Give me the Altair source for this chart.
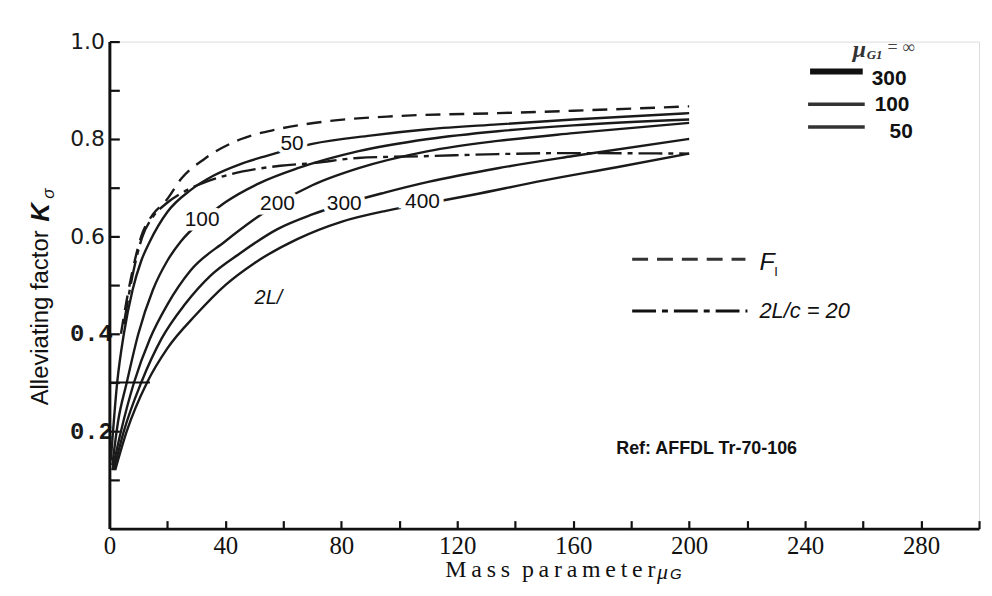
import altair as alt
import pandas as pd

# ---------------- data ----------------
mu_F1 = [4, 6, 8, 11, 15, 19.5, 25, 33, 45.5, 58, 76, 99, 134, 160, 200]
K_F1 = [0.40, 0.47, 0.53, 0.60, 0.645, 0.673, 0.72, 0.76, 0.80, 0.82, 0.837, 0.847, 0.853, 0.858, 0.867]

mu_D20 = [5, 8, 11.3, 15, 19.5, 26.4, 34.2, 42, 51.4, 59, 71, 85.6, 110.6, 134, 157, 200]
K_D20 = [0.42, 0.52, 0.598, 0.64, 0.667, 0.694, 0.714, 0.728, 0.739, 0.745, 0.751, 0.761, 0.765, 0.769, 0.771, 0.770]

mu_50 = [0.5, 2.7, 5, 8, 11, 14, 20, 28, 36, 45, 54, 70, 90, 110, 134, 160, 200]
K_50 = [0.14, 0.30, 0.40, 0.49, 0.55, 0.59, 0.65, 0.695, 0.725, 0.748, 0.765, 0.79, 0.807, 0.82, 0.83, 0.84, 0.853]

mu_100 = [1, 3, 6, 10, 15, 20, 24.7, 32, 40, 52, 65, 86, 110, 134, 160, 200]
K_100 = [0.13, 0.22, 0.30, 0.40, 0.49, 0.55, 0.59, 0.633, 0.67, 0.71, 0.74, 0.775, 0.80, 0.816, 0.828, 0.84]

mu_200 = [1, 4, 8.5, 14, 20, 28, 40, 50, 58, 70, 86, 110, 134, 160, 200]
K_200 = [0.12, 0.20, 0.30, 0.39, 0.46, 0.53, 0.59, 0.635, 0.667, 0.705, 0.74, 0.775, 0.796, 0.812, 0.833]

mu_300 = [1.5, 5, 11, 18, 26, 35, 45, 58, 70, 81, 95, 110, 134, 160, 200]
K_300 = [0.12, 0.20, 0.30, 0.39, 0.46, 0.52, 0.565, 0.615, 0.645, 0.667, 0.69, 0.712, 0.74, 0.765, 0.80]

mu_400 = [2, 6, 13, 20, 30, 40, 50, 65, 80, 95, 109, 125, 150, 175, 200]
K_400 = [0.12, 0.20, 0.30, 0.37, 0.44, 0.50, 0.545, 0.595, 0.63, 0.652, 0.667, 0.685, 0.715, 0.742, 0.77]

solid_names = ["50", "100", "200", "300", "400"]
solid_mu = [mu_50, mu_100, mu_200, mu_300, mu_400]
solid_K = [K_50, K_100, K_200, K_300, K_400]

# curve labels (text, mu, K)
lab_text = ["50", "100", "200", "300", "400"]
lab_mu = [63, 32, 58, 81, 108]
lab_K = [0.79, 0.633, 0.667, 0.667, 0.67]

x_label_vals = [0, 40, 80, 120, 160, 200, 240, 280]
x_tick_vals = [20, 40, 60, 80, 100, 120, 140, 160, 180, 200, 220, 240, 260, 280, 300]
y_label_vals = [0.2, 0.4, 0.6, 0.8, 1.0]
y_tick_vals = [0.1, 0.2, 0.3, 0.4, 0.5, 0.6, 0.7, 0.8, 0.9, 1.0]

# ---------------- build tables ----------------
rows = []
for n, ms, ks in zip(solid_names, solid_mu, solid_K):
    for i, (m, k) in enumerate(zip(ms, ks)):
        rows.append({"series": n, "mu": m, "K": k, "o": i})
solid_df = pd.DataFrame(rows)
f1_df = pd.DataFrame({"mu": mu_F1, "K": K_F1})
d20_df = pd.DataFrame({"mu": mu_D20, "K": K_D20})
lab_df = pd.DataFrame({"t": lab_text, "mu": lab_mu, "K": lab_K})

W, H = 875, 490
xs = alt.Scale(domain=[0, 300], nice=False, zero=False)
ys = alt.Scale(domain=[0, 1.0], nice=False, zero=False)
xn = alt.X("mu:Q", scale=xs, axis=None)
yn = alt.Y("K:Q", scale=ys, axis=None)

x_main = alt.X("mu:Q", scale=xs, axis=alt.Axis(
    values=x_label_vals, ticks=False, grid=False, domainColor="#111", domainWidth=2.6,
    labelFont="Liberation Serif", labelFontSize=25, labelColor="#111", labelPadding=5,
    title=None, labelFlush=False))
y_main = alt.Y("K:Q", scale=ys, axis=alt.Axis(
    values=y_label_vals, format=".1f", ticks=False, grid=False,
    domainColor="#111", domainWidth=3,
    labelFont={"condition": {"test": "datum.value < 0.5", "value": "Liberation Mono"}, "value": "DejaVu Sans"},
    labelFontSize={"condition": {"test": "datum.value < 0.5", "value": 24}, "value": 22},
    labelFontWeight={"condition": {"test": "datum.value < 0.5", "value": "bold"}, "value": "normal"},
    labelPadding={"condition": {"test": "datum.value < 0.5", "value": -3}, "value": 5},
    labelColor="#1a1a1a", title=None))

solid = alt.Chart(solid_df).mark_line(color="#1a1a1a", strokeWidth=2.4, interpolate="monotone").encode(
    x=x_main, y=y_main, detail="series:N", order="o:Q")

# inward ticks (secondary axes moved onto the main ones)
x_in = alt.X("mu:Q", scale=xs, axis=alt.Axis(
    orient="top", offset=-H, values=x_tick_vals, tickSize=8, tickWidth=2.2, tickColor="#111",
    labels=False, domain=False, grid=False, title=None))
y_in = alt.Y("K:Q", scale=ys, axis=alt.Axis(
    orient="right", offset=-W, values=y_tick_vals, tickSize=10, tickWidth=2.2, tickColor="#111",
    labels=False, domain=False, grid=False, title=None))

f1 = alt.Chart(f1_df).mark_line(color="#1a1a1a", strokeWidth=2.4, strokeDash=[15, 9], interpolate="monotone").encode(
    x=x_in, y=y_in)
d20 = alt.Chart(d20_df).mark_line(color="#1a1a1a", strokeWidth=2.4, strokeDash=[24, 6, 5, 6], interpolate="monotone").encode(
    x=xn, y=yn)

halo = alt.Chart(lab_df).mark_text(font="Liberation Sans", fontSize=21, color="white", stroke="white", strokeWidth=9).encode(
    x=xn, y=yn, text="t:N")
labels = alt.Chart(lab_df).mark_text(font="Liberation Sans", fontSize=21, color="#111").encode(
    x=xn, y=yn, text="t:N")

# extended tick at 0.3
ext_df = pd.DataFrame({"mu": [0], "mu2": [14], "K": [0.3]})
ext = alt.Chart(ext_df).mark_rule(color="#111", strokeWidth=2).encode(
    x=xn, x2="mu2:Q", y=yn)

def txt(s, x, y, size=20, font="Liberation Sans", style="normal", weight="normal", angle=0,
        align="center", baseline="middle", color="#111"):
    return alt.Chart(pd.DataFrame({"t": [s]})).mark_text(
        font=font, fontSize=size, fontStyle=style, fontWeight=weight, angle=angle,
        align=align, baseline=baseline, color=color).encode(
        text="t:N", x=alt.value(x - 110), y=alt.value(y - 40))

def seg(x1, x2, y, w=3, dash=None, color="#111"):
    kw = {"color": color, "strokeWidth": w}
    if dash:
        kw["strokeDash"] = dash
    return alt.Chart(pd.DataFrame({"a": [0]})).mark_rule(**kw).encode(
        x=alt.value(x1 - 110), x2=alt.value(x2 - 110), y=alt.value(y - 40))

TH = "\u2009"
title_str = TH.join(list("Mass")) + "\u2002" + TH.join(list("parameter"))

decor = [
    txt(title_str, 448, 572, size=24, font="Liberation Serif", align="left"),
    txt("\u03bc", 661, 574, size=22, font="Liberation Serif", style="italic", align="left"),
    txt("G", 674, 576, size=15, font="Liberation Sans", style="italic", align="left"),
    txt("Alleviating factor", 41, 318, size=24, angle=270),
    txt("K", 41, 212, size=26, style="italic", weight="bold", angle=270),
    txt("\u03c3", 49, 193, size=17, style="italic", angle=270),
    txt("2L/", 270, 298, size=20, style="italic"),
    txt("Ref: AFFDL Tr-70-106", 620, 450, size=18, weight="bold", align="left"),
    # legend top right
    txt("\u03bc", 858, 49, size=24, font="Liberation Serif", style="italic", weight="bold", align="left", color="#333"),
    txt("G1", 872, 54, size=13, font="Liberation Serif", style="italic", weight="bold", align="left", color="#333"),
    txt("= \u221e", 893, 46, size=18, font="Liberation Serif", align="left", color="#444"),
    seg(815, 868, 70, w=6),
    seg(813, 870, 103, w=3.5, color="#333"),
    seg(813, 870, 126, w=3.5, color="#333"),
    txt("300", 877, 78, size=21, weight="bold", align="left"),
    txt("100", 880, 104, size=21, weight="bold", align="left"),
    txt("50", 895, 131, size=21, weight="bold", align="left"),
    # legend line styles
    seg(636, 750, 259, w=3, dash=[16, 9], color="#333"),
    txt("F", 764, 262, size=25, style="italic", align="left"),
    txt("I", 779, 272, size=13, align="left"),
    seg(636, 752, 311, w=3, dash=[24, 6, 6, 6]),
    txt("2L/c = 20", 764, 311, size=22, style="italic", align="left"),
]

chart = alt.layer(solid, f1, d20, halo, labels, ext, *decor).resolve_axis(x="independent", y="independent").properties(
    width=W, height=H,
    padding={"left": 102, "top": 32, "right": 5, "bottom": 62},
    autosize=alt.AutoSizeParams(type="none"),
).configure_view(stroke=None).configure(background="white")

chart.save("out.html", embed_options={"renderer": "svg", "actions": False})
